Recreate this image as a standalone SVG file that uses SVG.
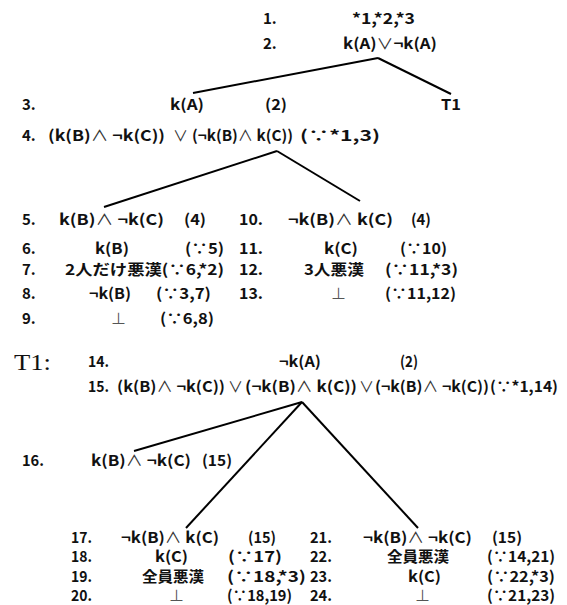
<svg xmlns="http://www.w3.org/2000/svg" width="567" height="605" viewBox="0 0 567 605">
<style>
.t{font-family:"Noto Sans CJK JP","Noto Sans",sans-serif;font-size:15px;font-weight:bold;fill:#111}
.o{font-weight:normal;fill:#333}
.f{font-family:"Noto Sans CJK JP","Noto Sans",sans-serif;font-size:15px;font-weight:normal;fill:#555}
.s{font-family:"Liberation Serif",serif;font-size:24px;fill:#111}
.c{stroke:#000;stroke-width:2;fill:none}
</style>
<rect width="567" height="605" fill="#fff"/>
<g id="connectors">
<line class="c" x1="378" y1="58" x2="193" y2="93"/>
<line class="c" x1="378" y1="58" x2="451" y2="94"/>
<line class="c" x1="277" y1="151" x2="104" y2="207"/>
<line class="c" x1="277" y1="151" x2="360" y2="201"/>
<line class="c" x1="302" y1="402" x2="134" y2="451"/>
<line class="c" x1="302" y1="402" x2="186" y2="528"/>
<line class="c" x1="302" y1="402" x2="418" y2="528"/>
</g>
<g id="n1"><text class="t" x="263" y="24">1.</text><text class="t" x="352" y="24" textLength="63" lengthAdjust="spacingAndGlyphs">*1,*2,*3</text></g>
<g id="n2"><text class="t" x="263" y="49">2.</text><text class="t" x="343" y="49" textLength="94" lengthAdjust="spacingAndGlyphs">k(A)<tspan class="o">∨</tspan>¬k(A)</text></g>
<g id="n3"><text class="t" x="22" y="110">3.</text><text class="t" x="170" y="110" textLength="34" lengthAdjust="spacingAndGlyphs">k(A)</text><text class="t" x="265" y="110" textLength="22" lengthAdjust="spacingAndGlyphs">(2)</text></g>
<g id="t1ref"><text class="t" x="441" y="110" textLength="20" lengthAdjust="spacingAndGlyphs">T1</text></g>
<g id="n4"><text class="t" x="22" y="141">4.</text><text class="t" x="48" y="141" textLength="117" lengthAdjust="spacingAndGlyphs">(k(B)<tspan class="o">∧</tspan> ¬k(C))</text><text class="t o" x="173" y="141">∨</text><text class="t" x="192" y="141" textLength="101" lengthAdjust="spacingAndGlyphs">(¬k(B)<tspan class="o">∧</tspan> k(C))</text><text class="t" x="300" y="141" textLength="80" lengthAdjust="spacingAndGlyphs">(∵*1,3)</text></g>
<g id="n5"><text class="t" x="22" y="225">5.</text><text class="t" x="59" y="225" textLength="105" lengthAdjust="spacingAndGlyphs">k(B)<tspan class="o">∧</tspan> ¬k(C)</text><text class="t" x="184" y="225" textLength="22" lengthAdjust="spacingAndGlyphs">(4)</text></g>
<g id="n6"><text class="t" x="22" y="254">6.</text><text class="t" x="95" y="254" textLength="34" lengthAdjust="spacingAndGlyphs">k(B)</text><text class="t" x="185" y="254" textLength="39" lengthAdjust="spacingAndGlyphs">(∵5)</text></g>
<g id="n7"><text class="t" x="22" y="275">7.</text><text class="t" x="65" y="275" textLength="159" lengthAdjust="spacingAndGlyphs">2人だけ悪漢(∵6,*2)</text></g>
<g id="n8"><text class="t" x="22" y="299">8.</text><text class="t" x="89" y="299" textLength="42" lengthAdjust="spacingAndGlyphs">¬k(B)</text><text class="t" x="156" y="299" textLength="55" lengthAdjust="spacingAndGlyphs">(∵3,7)</text></g>
<g id="n9"><text class="t" x="22" y="324">9.</text><text class="f" x="111" y="324">⊥</text><text class="t" x="160" y="324" textLength="54" lengthAdjust="spacingAndGlyphs">(∵6,8)</text></g>
<g id="n10"><text class="t" x="239" y="225" textLength="24" lengthAdjust="spacingAndGlyphs">10.</text><text class="t" x="288" y="225" textLength="105" lengthAdjust="spacingAndGlyphs">¬k(B)<tspan class="o">∧</tspan> k(C)</text><text class="t" x="411" y="225" textLength="20" lengthAdjust="spacingAndGlyphs">(4)</text></g>
<g id="n11"><text class="t" x="239" y="254" textLength="24" lengthAdjust="spacingAndGlyphs">11.</text><text class="t" x="324" y="254" textLength="34" lengthAdjust="spacingAndGlyphs">k(C)</text><text class="t" x="400" y="254" textLength="47" lengthAdjust="spacingAndGlyphs">(∵10)</text></g>
<g id="n12"><text class="t" x="239" y="275" textLength="24" lengthAdjust="spacingAndGlyphs">12.</text><text class="t" x="304" y="275" textLength="60" lengthAdjust="spacingAndGlyphs">3人悪漢</text><text class="t" x="385" y="275" textLength="73" lengthAdjust="spacingAndGlyphs">(∵11,*3)</text></g>
<g id="n13"><text class="t" x="239" y="299" textLength="24" lengthAdjust="spacingAndGlyphs">13.</text><text class="f" x="331" y="299">⊥</text><text class="t" x="385" y="299" textLength="71" lengthAdjust="spacingAndGlyphs">(∵11,12)</text></g>
<g id="t1label"><text class="s" x="14" y="370" textLength="37" lengthAdjust="spacingAndGlyphs">T1:</text></g>
<g id="n14"><text class="t" x="88" y="367" textLength="21" lengthAdjust="spacingAndGlyphs">14.</text><text class="t" x="279" y="367" textLength="42" lengthAdjust="spacingAndGlyphs">¬k(A)</text><text class="t" x="400" y="367" textLength="18" lengthAdjust="spacingAndGlyphs">(2)</text></g>
<g id="n15"><text class="t" x="88" y="392" textLength="21" lengthAdjust="spacingAndGlyphs">15.</text><text class="t" x="117" y="392" textLength="108" lengthAdjust="spacingAndGlyphs">(k(B)<tspan class="o">∧</tspan> ¬k(C))</text><text class="t o" x="228" y="392">∨</text><text class="t" x="245" y="392" textLength="112" lengthAdjust="spacingAndGlyphs">(¬k(B)<tspan class="o">∧</tspan> k(C))</text><text class="t o" x="359" y="392">∨</text><text class="t" x="375" y="392" textLength="114" lengthAdjust="spacingAndGlyphs">(¬k(B)<tspan class="o">∧</tspan> ¬k(C))</text><text class="t" x="490" y="392" textLength="68" lengthAdjust="spacingAndGlyphs">(∵*1,14)</text></g>
<g id="n16"><text class="t" x="22" y="466" textLength="22" lengthAdjust="spacingAndGlyphs">16.</text><text class="t" x="91" y="466" textLength="100" lengthAdjust="spacingAndGlyphs">k(B)<tspan class="o">∧</tspan> ¬k(C)</text><text class="t" x="202" y="466" textLength="30" lengthAdjust="spacingAndGlyphs">(15)</text></g>
<g id="n17"><text class="t" x="71" y="543" textLength="21" lengthAdjust="spacingAndGlyphs">17.</text><text class="t" x="121" y="543" textLength="98" lengthAdjust="spacingAndGlyphs">¬k(B)<tspan class="o">∧</tspan> k(C)</text><text class="t" x="248" y="543" textLength="28" lengthAdjust="spacingAndGlyphs">(15)</text></g>
<g id="n18"><text class="t" x="71" y="562" textLength="21" lengthAdjust="spacingAndGlyphs">18.</text><text class="t" x="155" y="562" textLength="33" lengthAdjust="spacingAndGlyphs">k(C)</text><text class="t" x="228" y="562" textLength="54" lengthAdjust="spacingAndGlyphs">(∵17)</text></g>
<g id="n19"><text class="t" x="71" y="582" textLength="21" lengthAdjust="spacingAndGlyphs">19.</text><text class="t" x="142" y="582" textLength="62" lengthAdjust="spacingAndGlyphs">全員悪漢</text><text class="t" x="227" y="582" textLength="79" lengthAdjust="spacingAndGlyphs">(∵18,*3)</text></g>
<g id="n20"><text class="t" x="71" y="601" textLength="21" lengthAdjust="spacingAndGlyphs">20.</text><text class="f" x="169" y="601">⊥</text><text class="t" x="227" y="601" textLength="65" lengthAdjust="spacingAndGlyphs">(∵18,19)</text></g>
<g id="n21"><text class="t" x="310" y="543" textLength="22" lengthAdjust="spacingAndGlyphs">21.</text><text class="t" x="363" y="543" textLength="109" lengthAdjust="spacingAndGlyphs">¬k(B)<tspan class="o">∧</tspan> ¬k(C)</text><text class="t" x="492" y="543" textLength="30" lengthAdjust="spacingAndGlyphs">(15)</text></g>
<g id="n22"><text class="t" x="310" y="562" textLength="22" lengthAdjust="spacingAndGlyphs">22.</text><text class="t" x="387" y="562" textLength="62" lengthAdjust="spacingAndGlyphs">全員悪漢</text><text class="t" x="487" y="562" textLength="68" lengthAdjust="spacingAndGlyphs">(∵14,21)</text></g>
<g id="n23"><text class="t" x="310" y="582" textLength="22" lengthAdjust="spacingAndGlyphs">23.</text><text class="t" x="408" y="582" textLength="33" lengthAdjust="spacingAndGlyphs">k(C)</text><text class="t" x="487" y="582" textLength="68" lengthAdjust="spacingAndGlyphs">(∵22,*3)</text></g>
<g id="n24"><text class="t" x="310" y="601" textLength="22" lengthAdjust="spacingAndGlyphs">24.</text><text class="f" x="415" y="601">⊥</text><text class="t" x="487" y="601" textLength="68" lengthAdjust="spacingAndGlyphs">(∵21,23)</text></g>
</svg>
